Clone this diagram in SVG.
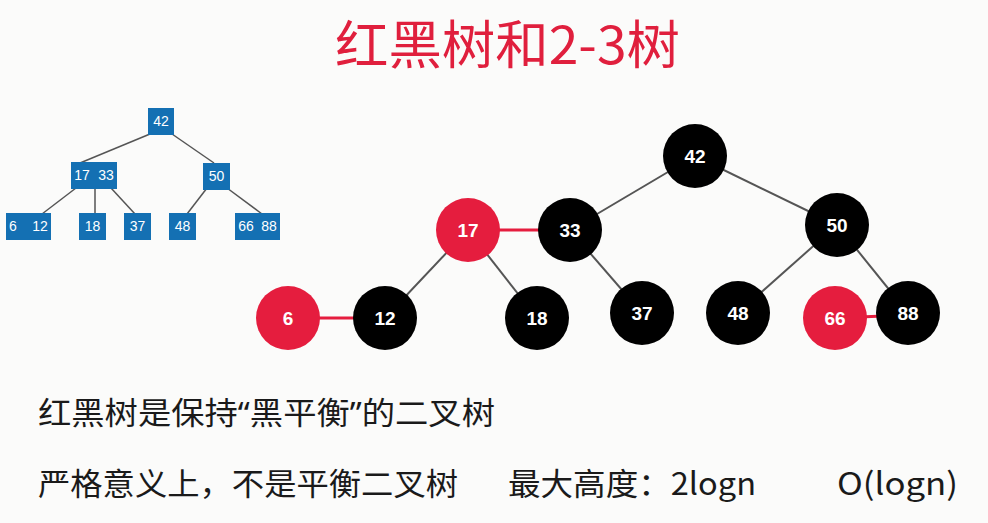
<svg xmlns="http://www.w3.org/2000/svg" width="988" height="523" viewBox="0 0 988 523">
<style>
.bg{fill:#fbfbfa}
.box{fill:#1470b3}
.bt{fill:#fff;font-family:"Liberation Sans",Arial,sans-serif;font-size:14px;text-anchor:middle}
.e{stroke:#555;stroke-width:2;fill:none}
.re{stroke:#e51d3e;stroke-width:3;fill:none}
.se{stroke:#555;stroke-width:1.5;fill:none}
.blk{fill:#000}
.red{fill:#e51d3e}
.ct{fill:#fff;font-family:"Liberation Sans",Arial,sans-serif;font-size:19px;font-weight:bold;text-anchor:middle}
.cn{font-family:"Noto Sans CJK SC","Noto Sans",sans-serif;fill:#1a1a1a;font-size:31px}
.q{font-family:"Noto Sans","Noto Sans CJK SC",sans-serif}
.title{font-family:"Noto Sans CJK SC","Noto Sans",sans-serif;fill:#e01f3d;font-size:52px}
</style>
<rect class="bg" x="0" y="0" width="988" height="523"/>
<text class="title" x="335" y="64" textLength="345" lengthAdjust="spacingAndGlyphs">红黑树和2-3树</text>

<g id="small-edges">
<line class="se" x1="150" y1="134" x2="80" y2="163"/>
<line class="se" x1="172" y1="134" x2="214" y2="163"/>
<line class="se" x1="76" y1="188" x2="42" y2="214"/>
<line class="se" x1="95" y1="188" x2="95" y2="214"/>
<line class="se" x1="111" y1="188" x2="135" y2="214"/>
<line class="se" x1="207" y1="188" x2="187" y2="214"/>
<line class="se" x1="227" y1="188" x2="262" y2="214"/>
</g>
<g id="b42"><rect class="box" x="148" y="108" width="26" height="27"/><text class="bt" x="161" y="126">42</text></g>
<g id="b1733"><rect class="box" x="71" y="162" width="46" height="27"/><text class="bt" x="82" y="180">17</text><text class="bt" x="106" y="180">33</text></g>
<g id="b50"><rect class="box" x="203" y="163" width="27" height="27"/><text class="bt" x="216.5" y="181">50</text></g>
<g id="b612"><rect class="box" x="6" y="213" width="45" height="27"/><text class="bt" x="13" y="231">6</text><text class="bt" x="40" y="231">12</text></g>
<g id="b18"><rect class="box" x="79" y="213" width="27" height="27"/><text class="bt" x="92.5" y="231">18</text></g>
<g id="b37"><rect class="box" x="124" y="213" width="27" height="27"/><text class="bt" x="137.5" y="231">37</text></g>
<g id="b48"><rect class="box" x="169" y="213" width="27" height="27"/><text class="bt" x="182.5" y="231">48</text></g>
<g id="b6688"><rect class="box" x="235" y="213" width="45" height="27"/><text class="bt" x="246" y="231">66</text><text class="bt" x="269" y="231">88</text></g>

<g id="connectors">
<line class="e" x1="695" y1="156" x2="570" y2="230"/>
<line class="e" x1="695" y1="156" x2="837" y2="225"/>
<line class="e" x1="468" y1="230" x2="385" y2="318"/>
<line class="e" x1="468" y1="230" x2="537" y2="318"/>
<line class="e" x1="570" y1="230" x2="642" y2="313"/>
<line class="e" x1="837" y1="225" x2="738" y2="313"/>
<line class="e" x1="837" y1="225" x2="908" y2="313"/>
<line class="re" x1="468" y1="230" x2="570" y2="230"/>
<line class="re" x1="288" y1="318" x2="385" y2="318"/>
<line class="re" x1="835" y1="318" x2="908" y2="315"/>
</g>
<g id="n42"><circle class="blk" cx="695" cy="156" r="32"/><text class="ct" x="695" y="163">42</text></g>
<g id="n17"><circle class="red" cx="468" cy="230" r="32"/><text class="ct" x="468" y="237">17</text></g>
<g id="n33"><circle class="blk" cx="570" cy="230" r="32"/><text class="ct" x="570" y="237">33</text></g>
<g id="n50"><circle class="blk" cx="837" cy="225" r="32"/><text class="ct" x="837" y="232">50</text></g>
<g id="n6"><circle class="red" cx="288" cy="318" r="32"/><text class="ct" x="288" y="325">6</text></g>
<g id="n12"><circle class="blk" cx="385" cy="318" r="32"/><text class="ct" x="385" y="325">12</text></g>
<g id="n18"><circle class="blk" cx="537" cy="318" r="32"/><text class="ct" x="537" y="325">18</text></g>
<g id="n37"><circle class="blk" cx="642" cy="313" r="32"/><text class="ct" x="642" y="320">37</text></g>
<g id="n48"><circle class="blk" cx="738" cy="313" r="32"/><text class="ct" x="738" y="320">48</text></g>
<g id="n66"><circle class="red" cx="835" cy="318" r="32"/><text class="ct" x="835" y="325">66</text></g>
<g id="n88"><circle class="blk" cx="908" cy="313" r="32"/><text class="ct" x="908" y="320">88</text></g>

<text class="cn" x="38" y="424" textLength="457" lengthAdjust="spacingAndGlyphs">红黑树是保持<tspan class="q">“</tspan>黑平衡<tspan class="q">”</tspan>的二叉树</text>
<text class="cn" x="38" y="495" textLength="420" lengthAdjust="spacingAndGlyphs">严格意义上，不是平衡二叉树</text>
<text class="cn" x="508" y="495" textLength="248" lengthAdjust="spacingAndGlyphs">最大高度：2logn</text>
<text class="cn" x="837" y="495" textLength="121" lengthAdjust="spacingAndGlyphs">O(logn)</text>
</svg>
